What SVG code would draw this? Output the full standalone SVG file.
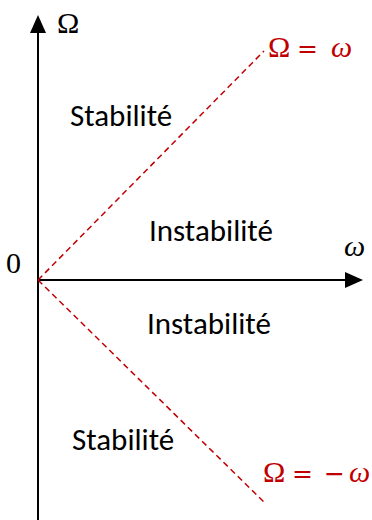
<svg xmlns="http://www.w3.org/2000/svg" width="372" height="520" viewBox="0 0 372 520">
<style>
.lbl{font-family:"Carlito","Open Sans","Liberation Sans",sans-serif;font-size:31px;fill:#000}
.m{font-family:"Liberation Serif","DejaVu Serif",serif;font-size:30px}
.op{font-family:"DejaVu Sans",sans-serif;font-size:25px}
.red{fill:#c00000}
.ax{stroke:#000;stroke-width:2;fill:none}
.dash{stroke:#c00000;stroke-width:1.5;stroke-dasharray:6,4;fill:none}
</style>
<g id="connectors">
<line class="ax" x1="38" y1="520" x2="38" y2="32"/>
<path d="M30,33 L38,15 L46,33 Z" fill="#000"/>
<line class="ax" x1="38" y1="280" x2="346" y2="280"/>
<path d="M345,272 L363,280 L345,288 Z" fill="#000"/>
<line class="dash" x1="38" y1="280" x2="264" y2="51"/>
<line class="dash" x1="38" y1="280" x2="264" y2="502"/>
</g>
<g id="axis-labels">
<text class="m" x="57" y="33">Ω</text>
<text class="m" x="344" y="256" font-style="italic">ω</text>
<text class="m" x="6" y="273">0</text>
</g>
<g id="regions">
<text class="lbl" x="70" y="126">Stabilité</text>
<text class="lbl" x="149" y="241">Instabilité</text>
<text class="lbl" x="147" y="334">Instabilité</text>
<text class="lbl" x="72" y="450">Stabilité</text>
</g>
<g id="lines-labels">
<text class="m red" y="57"><tspan x="268">Ω</tspan><tspan class="op" x="297">=</tspan><tspan x="331" font-style="italic">ω</tspan></text>
<text class="m red" y="482"><tspan x="263">Ω</tspan><tspan class="op" x="292">=</tspan><tspan class="op" x="324">−</tspan><tspan x="349" font-style="italic">ω</tspan></text>
</g>
</svg>
